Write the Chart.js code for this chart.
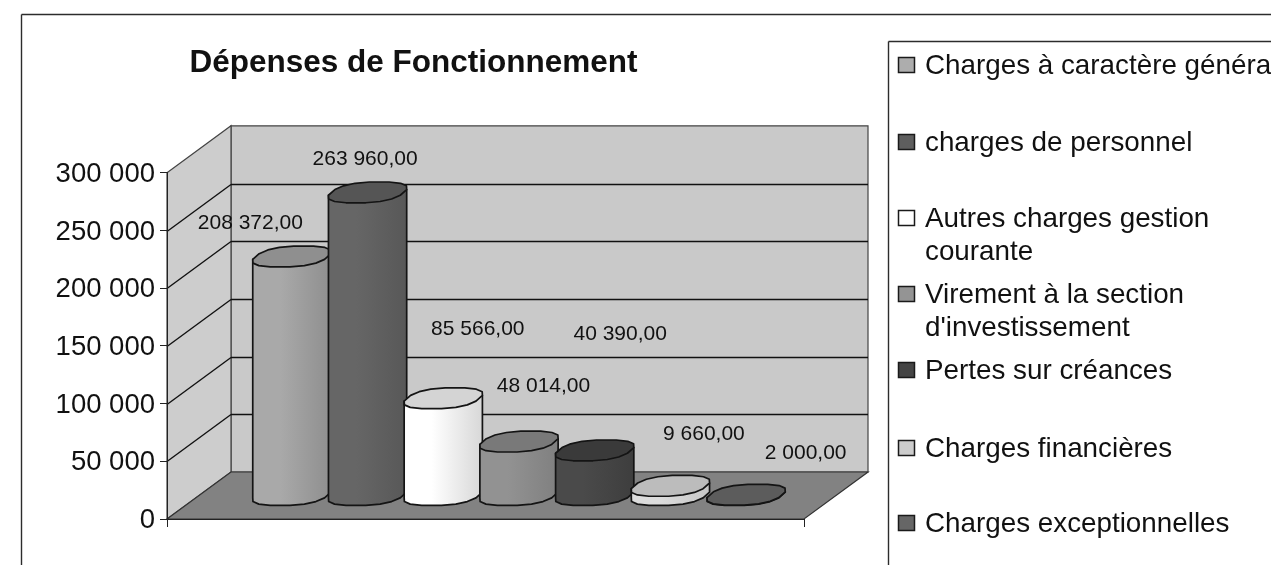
<!DOCTYPE html>
<html lang="fr">
<head>
<meta charset="utf-8">
<title>Dépenses de Fonctionnement</title>
<script src="https://cdn.jsdelivr.net/npm/chart.js@4/dist/chart.umd.min.js"></script>
<style>
  html, body { margin: 0; padding: 0; background: #fff; overflow: hidden; }
  canvas { display: block; filter: blur(0.45px); }
</style>
</head>
<body>
<canvas id="depenses" width="1271" height="565"></canvas>
<script>
/*********************************************************
 * DATA
 *********************************************************/
const titre = "Dépenses de Fonctionnement";
const categories = [""];
const seriesNames = [
  "Charges à caractère général",
  "charges de personnel",
  "Autres charges gestion courante",
  "Virement à la section d'investissement",
  "Pertes sur créances",
  "Charges financières",
  "Charges exceptionnelles"
];
const seriesValues = [208372, 263960, 85566, 48014, 40390, 9660, 2000];
const tickValues = [0, 50000, 100000, 150000, 200000, 250000, 300000];

/*********************************************************
 * STYLE
 *********************************************************/
const sideLight = ["#a9a9a9", "#666666", "#ffffff", "#929292", "#4a4a4a", "#dcdcdc", "#666666"];
const sideDark  = ["#8f8f8f", "#585858", "#d8d8d8", "#808080", "#3e3e3e", "#c6c6c6", "#555555"];
const lidColors = ["#8f8f8f", "#555555", "#d4d4d4", "#797979", "#3a3a3a", "#bcbcbc", "#5c5c5c"];
const swatchColors = ["#adadad", "#5e5e5e", "#ffffff", "#949494", "#454545", "#cccccc", "#666666"];

// label position, relative to the top of the bar (front plane)
const labelShift = [[-8, -55], [31, -55], [68, -91], [58, -77], [59, -138], [67, -74], [93, -63]];

// legend rows: y of each text line
const legendRows = [
  { y: [65] },
  { y: [142] },
  { y: [218, 251], lines: ["Autres charges gestion", "courante"] },
  { y: [294, 327], lines: ["Virement à la section", "d'investissement"] },
  { y: [370] },
  { y: [448] },
  { y: [523] }
];

const FONT = '"Liberation Sans", Arial, sans-serif';
const INK = "#111111";
const DEPTH_X = 64;   // 3D depth of the plot box
const DEPTH_Y = 47;

const fmtNombre = n => String(n).replace(/\B(?=(\d{3})+(?!\d))/g, " ");
const fmtValeur = n => fmtNombre(n) + ",00";

/*********************************************************
 * 3D HELPERS
 *********************************************************/
function poly(ctx, pts, fill, stroke, lw) {
  ctx.beginPath();
  pts.forEach((p, i) => i ? ctx.lineTo(p[0], p[1]) : ctx.moveTo(p[0], p[1]));
  ctx.closePath();
  if (fill) { ctx.fillStyle = fill; ctx.fill(); }
  if (stroke) { ctx.strokeStyle = stroke; ctx.lineWidth = lw || 1; ctx.stroke(); }
}

function line(ctx, x1, y1, x2, y2, color, lw) {
  ctx.beginPath();
  ctx.moveTo(x1, y1);
  ctx.lineTo(x2, y2);
  ctx.strokeStyle = color;
  ctx.lineWidth = lw || 1;
  ctx.stroke();
}

// tilted disc, a bit squared off like the scanned shape
const DISC_STEPS = 16;
function disc(cx, cy, R) {
  const shear = R * 0.31, ry = R * 0.275;
  const rx = Math.sqrt(R * R - shear * shear);
  const pts = [];
  for (let k = 0; k < DISC_STEPS; k++) {
    const t = (k + 0.5) * 2 * Math.PI / DISC_STEPS;
    const c = Math.cos(t), s = Math.sin(t);
    const u = Math.sign(c) * Math.pow(Math.abs(c), 0.8);
    const v = Math.sign(s) * Math.pow(Math.abs(s), 0.8);
    pts.push([cx + rx * u + shear * v, cy - ry * v]);
  }
  return pts;
}

function extremes(pts) {
  let lo = 0, hi = 0;
  pts.forEach((p, k) => {
    if (p[0] < pts[lo][0]) lo = k;
    if (p[0] > pts[hi][0]) hi = k;
  });
  return [lo, hi];
}

function drawCylinder(ctx, bar, i) {
  const R = bar.width / 2 + 0.5;
  const cx = bar.x + DEPTH_X / 2 + 1.5;
  const topY = bar.y - DEPTH_Y / 2 + 1.5;
  const baseY = bar.base - DEPTH_Y / 2;
  const lid = disc(cx, topY, R);
  const foot = disc(cx, baseY, R);
  const [lo, hi] = extremes(foot);

  // side: down the left, along the front of the foot, up the right
  const outline = [lid[lo]];
  for (let k = lo; k !== hi; k = (k + 1) % DISC_STEPS) outline.push(foot[k]);
  outline.push(foot[hi], lid[hi]);

  const grad = ctx.createLinearGradient(cx - R, 0, cx + R, 0);
  grad.addColorStop(0, sideLight[i]);
  grad.addColorStop(0.35, sideLight[i]);
  grad.addColorStop(1, sideDark[i]);

  ctx.lineJoin = "round";
  poly(ctx, outline, grad, "#141414", 1.7);
  poly(ctx, lid, lidColors[i], "#141414", 1.7);
}

/*********************************************************
 * PLUGIN : frame, walls, legend, cylinders, labels
 *********************************************************/
const decor3d = {
  id: "decor3d",

  afterLayout(chart) {
    // title sits over the left part of the frame
    const t = chart.titleBlock;
    t.left = 0;
    t.right = 827;
    t.width = 827;
  },

  beforeDraw(chart) {
    const ctx = chart.ctx;
    const a = chart.chartArea;
    const y = chart.scales.y;
    const H = chart.height, W = chart.width;
    const dx = DEPTH_X, dy = DEPTH_Y;

    ctx.save();
    ctx.fillStyle = "#fff";
    ctx.fillRect(0, 0, W, H);

    // outer frame and legend box
    line(ctx, 21.5, 14.5, W, 14.5, "#2c2c2c", 1.4);
    line(ctx, 21.5, 14.5, 21.5, H, "#2c2c2c", 1.4);
    line(ctx, 888.5, 41.5, W, 41.5, "#2c2c2c", 1.4);
    line(ctx, 888.5, 41.5, 888.5, H, "#2c2c2c", 1.4);

    // walls and floor
    const L = a.left, R = a.right, T = a.top, B = a.bottom;
    poly(ctx, [[L + dx, T - dy], [R + dx, T - dy], [R + dx, B - dy], [L + dx, B - dy]], "#c9c9c9", "#444", 1.2);
    poly(ctx, [[L, T], [L + dx, T - dy], [L + dx, B - dy], [L, B]], "#cdcdcd", "#444", 1.2);
    poly(ctx, [[L, B], [L + dx, B - dy], [R + dx, B - dy], [R, B]], "#828282", "#333", 1.2);

    // gridlines on both walls
    y.ticks.forEach(tk => {
      if (tk.value === 0 || tk.value === y.max) return;
      const py = Math.round(y.getPixelForValue(tk.value)) + 0.5;
      line(ctx, L, py, L + dx, py - dy, "#111", 1.4);
      line(ctx, L + dx, py - dy, R + dx, py - dy, "#111", 1.4);
    });

    // legend
    ctx.textBaseline = "middle";
    ctx.textAlign = "left";
    ctx.font = "27.8px " + FONT;
    chart.data.datasets.forEach((ds, i) => {
      const row = legendRows[i];
      const lines = row.lines || [ds.label];
      poly(ctx, [[898.5, row.y[0] - 7.5], [914.5, row.y[0] - 7.5], [914.5, row.y[0] + 7.5], [898.5, row.y[0] + 7.5]],
           swatchColors[i], "#1a1a1a", 1.5);
      ctx.fillStyle = INK;
      lines.forEach((txt, k) => ctx.fillText(txt, 925, row.y[k] + 1));
    });
    ctx.restore();
  },

  afterDatasetsDraw(chart) {
    const ctx = chart.ctx;
    ctx.save();
    chart.data.datasets.forEach((ds, i) => {
      drawCylinder(ctx, chart.getDatasetMeta(i).data[0], i);
    });

    ctx.font = "21px " + FONT;
    ctx.fillStyle = INK;
    ctx.textAlign = "center";
    ctx.textBaseline = "middle";
    chart.data.datasets.forEach((ds, i) => {
      const bar = chart.getDatasetMeta(i).data[0];
      ctx.fillText(fmtValeur(ds.data[0]), bar.x + labelShift[i][0], bar.y + labelShift[i][1]);
    });
    ctx.restore();
  }
};

/*********************************************************
 * CHART SETUP
 *********************************************************/
const ctx = document.getElementById("depenses").getContext("2d");

const depensesChart = new Chart(ctx, {
  type: "bar",
  plugins: [decor3d],
  data: {
    labels: categories,
    datasets: seriesNames.map((name, i) => ({
      label: name,
      data: [seriesValues[i]],
      backgroundColor: "rgba(0,0,0,0)",
      borderWidth: 0,
      barPercentage: 1,
      categoryPercentage: 0.832
    }))
  },
  options: {
    responsive: false,
    animation: false,
    layout: { padding: { left: 0, right: 467, top: 0, bottom: 38 } },
    plugins: {
      legend: { display: false },
      tooltip: { enabled: false },
      title: {
        display: true,
        text: titre,
        color: "#111",
        font: { family: FONT, size: 31.5, weight: "bold" },
        padding: { top: 44, bottom: 91 }
      }
    },
    scales: {
      x: {
        grid: { drawOnChartArea: false, tickLength: 8, color: "#222", tickColor: "#222" },
        border: { color: "#222" },
        ticks: { display: false }
      },
      y: {
        min: 0,
        max: 300000,
        afterBuildTicks(scale) {
          scale.ticks = tickValues.map(v => ({ value: v }));
        },
        afterFit(scale) { scale.width = 167; },
        grid: { drawOnChartArea: false, tickLength: 7, color: "#222", tickColor: "#222" },
        border: { color: "#222" },
        ticks: {
          padding: 5,
          labelOffset: 1.5,
          color: INK,
          font: { family: FONT, size: 27.5 },
          callback: v => fmtNombre(v)
        }
      }
    }
  }
});
</script>
</body>
</html>
